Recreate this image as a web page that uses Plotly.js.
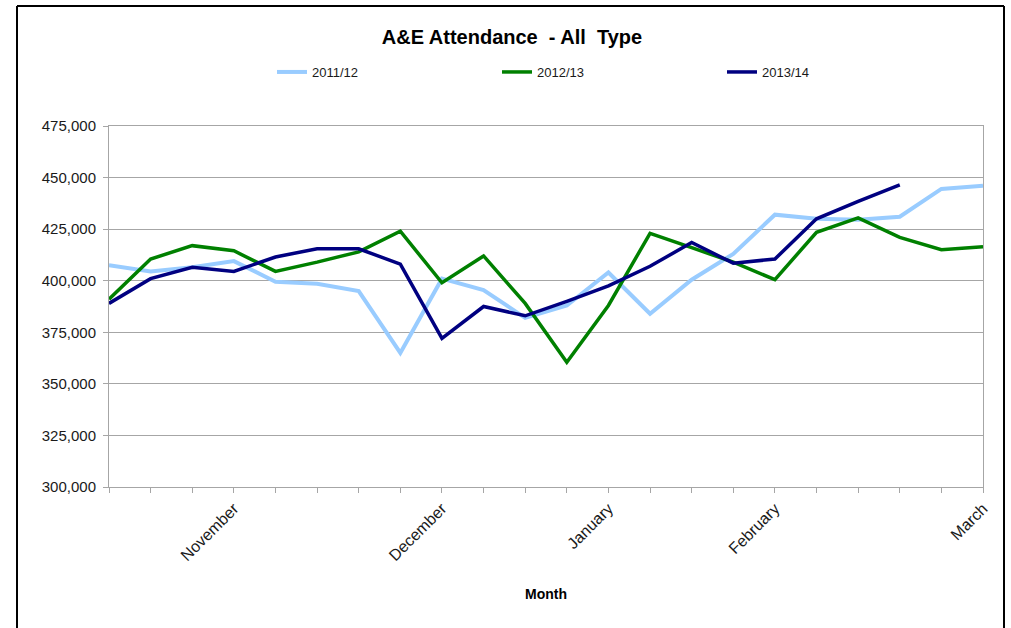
<!DOCTYPE html>
<html>
<head>
<meta charset="utf-8">
<script src="https://cdn.plot.ly/plotly-3.0.1.min.js"></script>
<style>
  html, body { margin: 0; padding: 0; background: #ffffff; }
  #chart { width: 1011px; height: 628px; }
</style>
</head>
<body>
<div id="chart"></div>
<script>
// ---- data ----
var weeks = [0, 1, 2, 3, 4, 5, 6, 7, 8, 9, 10, 11, 12, 13, 14, 15, 16, 17, 18, 19, 20, 21];
var monthTickPos = [3, 8, 12, 16, 21];
var monthLabels = ["November", "December", "January", "February", "March"];
var seriesNames = ["2011/12", "2012/13", "2013/14"];
var att2011 = [407500, 404500, 406500, 409500, 399500, 398500, 395000, 365000, 401000, 395500, 382000,
               388000, 404000, 384000, 400500, 413000, 432000, 430000, 429500, 431000, 444500, 446000];
var att2012 = [391000, 410500, 417000, 414500, 404500, 409000, 414000, 424000, 399000, 412000, 389000,
               360500, 388000, 423000, 416000, 409000, 400500, 423500, 430500, 421000, 415000, 416500];
var att2013 = [389000, 401000, 406500, 404500, 411500, 415500, 415500, 408000, 372000, 387500, 383000,
               390000, 397500, 407000, 418500, 408500, 410500, 430000, 438500, 446500, null, null];

// ---- layout geometry ----
var W = 1011, H = 628;
var mL = 109, mR = W - 983, mT = 126, mB = H - 487;
var plotW = W - mL - mR, plotH = H - mT - mB;
function px2x(px) { return (px - mL) / plotW; }
function px2y(py) { return (H - mB - py) / plotH; }

var FONT = '"Liberation Sans", Arial, sans-serif';
var GRID = '#a6a6a6';

var traces = [
  { x: weeks, y: att2011, name: seriesNames[0], type: 'scatter', mode: 'lines',
    line: { color: '#99ccff', width: 4 } },
  { x: weeks, y: att2012, name: seriesNames[1], type: 'scatter', mode: 'lines',
    line: { color: '#008000', width: 3.5 } },
  { x: weeks, y: att2013, name: seriesNames[2], type: 'scatter', mode: 'lines',
    line: { color: '#000080', width: 3.5 }, connectgaps: false }
];

var layout = {
  width: W, height: H,
  margin: { l: mL, r: mR, t: mT, b: mB, pad: 0 },
  paper_bgcolor: '#ffffff', plot_bgcolor: '#ffffff',
  font: { family: FONT, color: '#1a1a1a', size: 13 },
  title: { text: 'A&amp;E Attendance  - All  Type', font: { family: FONT, size: 20, color: '#000000', weight: 'bold' },
           x: 512 / W, xref: 'container', xanchor: 'center', y: 1 - 37 / H, yref: 'container', yanchor: 'middle' },
  showlegend: true,
  legend: { orientation: 'h', x: px2x(272), xanchor: 'left', y: px2y(72), yanchor: 'middle',
            entrywidth: 180, entrywidthmode: 'pixels', font: { family: FONT, size: 13, color: '#1a1a1a' },
            bgcolor: 'rgba(0,0,0,0)', borderwidth: 0, itemclick: false },
  xaxis: {
    range: [0, 21], tickmode: 'array', tickvals: monthTickPos, ticktext: monthLabels,
    tickangle: -45, ticks: 'outside', ticklen: 5, tickcolor: GRID, tickwidth: 1,
    tickfont: { family: FONT, size: 16, color: '#1a1a1a' },
    showgrid: false, zeroline: false, showline: true, linecolor: GRID, linewidth: 1, mirror: true,
    minor: { tickmode: 'linear', tick0: 0, dtick: 1, ticks: 'outside', ticklen: 5, tickcolor: GRID, tickwidth: 1, showgrid: false },
    title: { text: '<b>Month</b>', font: { family: FONT, size: 14, color: '#000000' }, standoff: 26 },
    fixedrange: true
  },
  yaxis: {
    range: [300000, 475000], tickmode: 'linear', tick0: 300000, dtick: 25000, tickformat: ',d',
    ticks: 'outside', ticklen: 5, tickcolor: GRID, tickwidth: 1, ticklabelstandoff: 4,
    tickfont: { family: FONT, size: 15, color: '#1a1a1a' },
    showgrid: true, gridcolor: GRID, gridwidth: 1, zeroline: false,
    showline: true, linecolor: GRID, linewidth: 1, mirror: true,
    fixedrange: true
  },
  shapes: [
    { type: 'line', xref: 'paper', yref: 'paper', x0: px2x(17), x1: px2x(17), y0: px2y(6), y1: px2y(H + 10),
      line: { color: '#000000', width: 2 } },
    { type: 'line', xref: 'paper', yref: 'paper', x0: px2x(17), x1: px2x(1004), y0: px2y(6), y1: px2y(6),
      line: { color: '#000000', width: 2 } },
    { type: 'line', xref: 'paper', yref: 'paper', x0: px2x(1004), x1: px2x(1004), y0: px2y(6), y1: px2y(H + 10),
      line: { color: '#000000', width: 2 } }
  ]
};

Plotly.newPlot('chart', traces, layout, { displayModeBar: false, staticPlot: true });
</script>
</body>
</html>
